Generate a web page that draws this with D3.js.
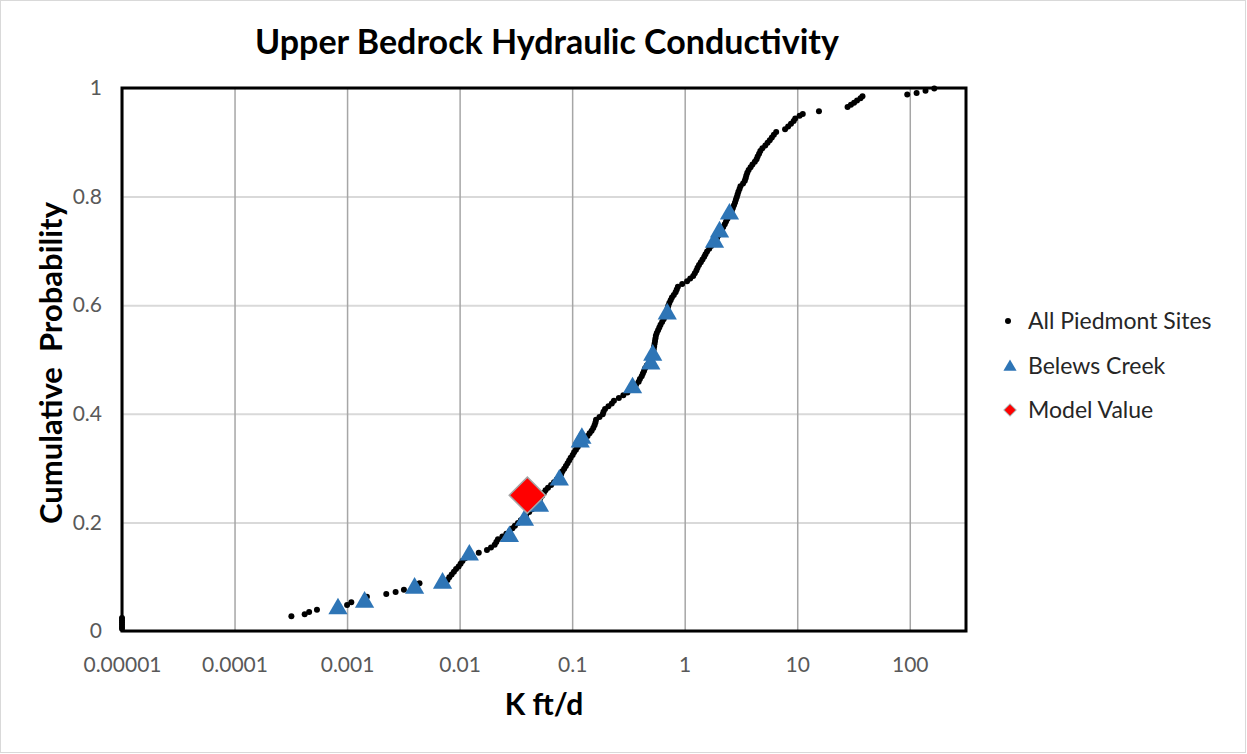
<!DOCTYPE html>
<html>
<head>
<meta charset="utf-8">
<script src="https://cdn.jsdelivr.net/npm/d3@7"></script>
<style>
  body { margin: 0; background: #fff; }
  text { font-family: Lato, "Open Sans", sans-serif; }
</style>
</head>
<body>
<div id="scatter"></div>
<script>
// data: [K ft/d, cumulative probability]
var piedmont = [
  [1e-5, 0.004], [1e-5, 0.008], [1e-5, 0.012], [1e-5, 0.016], [1e-5, 0.020], [1e-5, 0.024],
  [3.2e-4, 0.027], [4.2e-4, 0.031], [4.6e-4, 0.035], [5.4e-4, 0.039],
  [1.0e-3, 0.048], [1.09e-3, 0.053], [1.45e-3, 0.058], [1.5e-3, 0.063],
  [2.23e-3, 0.068], [2.7e-3, 0.072], [3.2e-3, 0.076], [4.2e-3, 0.084], [4.4e-3, 0.088],
  [7.8e-3, 0.094], [8.1e-3, 0.099], [8.5e-3, 0.104], [8.9e-3, 0.109], [9.3e-3, 0.114], [9.8e-3, 0.119],
  [0.0102, 0.124], [0.0106, 0.129], [0.0112, 0.134], [0.0127, 0.139], [0.0148, 0.144], [0.0175, 0.149],
  [0.019, 0.154], [0.0205, 0.159], [0.0212, 0.164], [0.0219, 0.169], [0.024, 0.174], [0.026, 0.179],
  [0.028, 0.184], [0.0295, 0.189], [0.031, 0.194], [0.033, 0.199], [0.035, 0.204], [0.037, 0.209],
  [0.039, 0.214], [0.0415, 0.219], [0.044, 0.224], [0.046, 0.229], [0.048, 0.234], [0.05, 0.239],
  [0.052, 0.244], [0.054, 0.249], [0.056, 0.254], [0.058, 0.259], [0.061, 0.264], [0.065, 0.269],
  [0.069, 0.274], [0.073, 0.279], [0.077, 0.284], [0.08, 0.289], [0.082, 0.294], [0.085, 0.299],
  [0.088, 0.304], [0.091, 0.309], [0.094, 0.314], [0.097, 0.319], [0.101, 0.324], [0.104, 0.329],
  [0.108, 0.334], [0.112, 0.339], [0.117, 0.344], [0.122, 0.349], [0.128, 0.354], [0.137, 0.359],
  [0.143, 0.364], [0.149, 0.369], [0.154, 0.374], [0.158, 0.379], [0.161, 0.384], [0.163, 0.389],
  [0.175, 0.394], [0.187, 0.399], [0.19, 0.404], [0.196, 0.409], [0.21, 0.414], [0.225, 0.419],
  [0.235, 0.424], [0.26, 0.429], [0.285, 0.434], [0.31, 0.439], [0.33, 0.444], [0.35, 0.449],
  [0.37, 0.454], [0.39, 0.459], [0.4, 0.464], [0.415, 0.469], [0.425, 0.474], [0.435, 0.479],
  [0.445, 0.484], [0.46, 0.489], [0.48, 0.494], [0.5, 0.499], [0.51, 0.504], [0.52, 0.509],
  [0.525, 0.514], [0.53, 0.519], [0.535, 0.524], [0.54, 0.529], [0.545, 0.534], [0.55, 0.539],
  [0.555, 0.544], [0.565, 0.549], [0.58, 0.554], [0.595, 0.559], [0.61, 0.564], [0.63, 0.569],
  [0.65, 0.574], [0.67, 0.579], [0.685, 0.584], [0.695, 0.589], [0.705, 0.594], [0.715, 0.599],
  [0.73, 0.604], [0.75, 0.609], [0.77, 0.614], [0.8, 0.619], [0.83, 0.624], [0.85, 0.629],
  [0.87, 0.634], [0.95, 0.639], [1.05, 0.644], [1.12, 0.649], [1.19, 0.654], [1.23, 0.659],
  [1.27, 0.664], [1.3, 0.669], [1.34, 0.674], [1.39, 0.679], [1.44, 0.684], [1.49, 0.689],
  [1.53, 0.694], [1.58, 0.699], [1.65, 0.704], [1.72, 0.709], [1.8, 0.714], [1.87, 0.719],
  [1.94, 0.724], [2.0, 0.729], [2.07, 0.734], [2.14, 0.739], [2.2, 0.744], [2.27, 0.749],
  [2.33, 0.754], [2.4, 0.759], [2.47, 0.764], [2.55, 0.769], [2.62, 0.774], [2.68, 0.779],
  [2.74, 0.784], [2.8, 0.789], [2.85, 0.794], [2.9, 0.799], [2.95, 0.804], [3.0, 0.809],
  [3.07, 0.814], [3.13, 0.819], [3.3, 0.824], [3.42, 0.829], [3.48, 0.834], [3.53, 0.839],
  [3.6, 0.844], [3.7, 0.849], [3.85, 0.854], [4.0, 0.859], [4.2, 0.864], [4.35, 0.869],
  [4.45, 0.874], [4.58, 0.879], [4.7, 0.884], [4.9, 0.889], [5.2, 0.894], [5.45, 0.899],
  [5.7, 0.904], [5.95, 0.909], [6.2, 0.914], [6.5, 0.919], [7.8, 0.924], [8.3, 0.929],
  [8.8, 0.934], [9.3, 0.939], [9.6, 0.944], [10.5, 0.949], [11.2, 0.952], [15.6, 0.957],
  [28, 0.965], [30, 0.969], [32, 0.973], [34, 0.977], [36.5, 0.981], [38, 0.985],
  [95, 0.988], [115, 0.991], [138, 0.995], [165, 0.999]
];

var belews = [
  [8.3e-4, 0.041], [1.43e-3, 0.053], [3.98e-3, 0.079], [7.05e-3, 0.088], [0.0122, 0.140],
  [0.0277, 0.174], [0.0377, 0.204], [0.0512, 0.230], [0.0769, 0.278], [0.118, 0.348],
  [0.122, 0.355], [0.344, 0.448], [0.50, 0.492], [0.52, 0.508], [0.70, 0.584],
  [1.84, 0.716], [2.04, 0.735], [2.5, 0.768]
];

var model = [[0.04, 0.25]];

var xTickValues = [0.00001, 0.0001, 0.001, 0.01, 0.1, 1, 10, 100];
var xTickLabels = ["0.00001", "0.0001", "0.001", "0.01", "0.1", "1", "10", "100"];
var yTickValues = [0, 0.2, 0.4, 0.6, 0.8, 1];
var yTickLabels = ["0", "0.2", "0.4", "0.6", "0.8", "1"];

var seriesNames = ["All Piedmont Sites", "Belews Creek", "Model Value"];

var svgWidth = 1247;
var svgHeight = 754;

var margin = { top: 88, right: 281, bottom: 123, left: 122 };
var width = svgWidth - margin.left - margin.right;
var height = svgHeight - margin.top - margin.bottom;

var svg = d3.select("#scatter")
  .append("svg")
  .attr("width", svgWidth)
  .attr("height", svgHeight);

// outer chart border
svg.append("rect")
  .attr("x", 0.5).attr("y", 0.5)
  .attr("width", svgWidth - 2).attr("height", svgHeight - 2)
  .attr("fill", "#fff")
  .attr("stroke", "#d9d9d9");

var chartGroup = svg.append("g")
  .attr("transform", `translate(${margin.left}, ${margin.top})`);

// scales
var xLogScale = d3.scaleLog()
  .domain([0.00001, 316])
  .range([0, width]);

var yLinearScale = d3.scaleLinear()
  .domain([0, 1])
  .range([height, 0]);

// horizontal gridlines
chartGroup.append("g")
  .attr("class", "ygrid")
  .call(d3.axisLeft(yLinearScale).tickValues(yTickValues).tickSize(-width).tickFormat(""))
  .call(g => g.select(".domain").remove())
  .call(g => g.selectAll("line").attr("stroke", "#d9d9d9").attr("stroke-width", 2));

// vertical gridlines
chartGroup.append("g")
  .attr("class", "xgrid")
  .attr("transform", `translate(0, ${height})`)
  .call(d3.axisBottom(xLogScale).tickValues(xTickValues).tickSize(-height).tickFormat(""))
  .call(g => g.select(".domain").remove())
  .call(g => g.selectAll("line").attr("stroke", "#a6a6a6").attr("stroke-width", 1.5));

// plot frame
chartGroup.append("rect")
  .attr("width", width)
  .attr("height", height)
  .attr("fill", "none")
  .attr("stroke", "#000")
  .attr("stroke-width", 3);

// axis tick labels
chartGroup.append("g")
  .attr("transform", `translate(0, ${height})`)
  .call(d3.axisBottom(xLogScale).tickValues(xTickValues)
    .tickFormat((d, i) => xTickLabels[i]).tickSize(0).tickPadding(26))
  .call(g => g.select(".domain").remove())
  .call(g => g.selectAll("text")
    .attr("fill", "#595959")
    .style("font-size", "21px")
    .style("font-family", "Lato, sans-serif"));

chartGroup.append("g")
  .call(d3.axisLeft(yLinearScale).tickValues(yTickValues)
    .tickFormat((d, i) => yTickLabels[i]).tickSize(0).tickPadding(20))
  .call(g => g.select(".domain").remove())
  .call(g => g.selectAll("text")
    .attr("fill", "#595959")
    .style("font-size", "21px")
    .style("font-family", "Lato, sans-serif"));

// points
chartGroup.append("g")
  .selectAll("circle")
  .data(piedmont)
  .enter()
  .append("circle")
  .attr("cx", d => xLogScale(d[0]))
  .attr("cy", d => yLinearScale(d[1]))
  .attr("r", 3)
  .attr("fill", "#000");

var triangle = d3.symbol().type(d3.symbolTriangle).size(160);
chartGroup.append("g")
  .selectAll("path")
  .data(belews)
  .enter()
  .append("path")
  .attr("d", triangle)
  .attr("transform", d => `translate(${xLogScale(d[0])}, ${yLinearScale(d[1])})`)
  .attr("fill", "#2e75b6");

var diamond = d3.symbol().type(d3.symbolSquare).size(660);
chartGroup.append("g")
  .selectAll("path")
  .data(model)
  .enter()
  .append("path")
  .attr("d", diamond)
  .attr("transform", d => `translate(${xLogScale(d[0])}, ${yLinearScale(d[1])}) rotate(45)`)
  .attr("fill", "#ff0000")
  .attr("stroke", "#a6a6a6")
  .attr("stroke-width", 1.5);

// title and axis titles
svg.append("text")
  .attr("x", 547)
  .attr("y", 54)
  .attr("text-anchor", "middle")
  .style("font-size", "34px")
  .style("font-weight", "bold")
  .text("Upper Bedrock Hydraulic Conductivity");

svg.append("text")
  .attr("transform", "rotate(-90)")
  .attr("x", -363)
  .attr("y", 62)
  .attr("text-anchor", "middle")
  .attr("xml:space", "preserve")
  .style("font-size", "31px")
  .style("font-weight", "bold")
  .text("Cumulative  Probability");

svg.append("text")
  .attr("x", 544)
  .attr("y", 715)
  .attr("text-anchor", "middle")
  .style("font-size", "30px")
  .style("font-weight", "bold")
  .text("K ft/d");

// legend
var legend = svg.append("g").attr("transform", "translate(1010, 0)");
var legendY = [321, 366, 410];

legend.append("circle").attr("cx", -2).attr("cy", legendY[0]).attr("r", 3).attr("fill", "#000");
legend.append("path")
  .attr("d", d3.symbol().type(d3.symbolTriangle).size(75))
  .attr("transform", `translate(0, ${legendY[1] + 1})`)
  .attr("fill", "#2e75b6");
legend.append("path")
  .attr("d", d3.symbol().type(d3.symbolSquare).size(75))
  .attr("transform", `translate(0, ${legendY[2]}) rotate(45)`)
  .attr("fill", "#ff0000")
  .attr("stroke", "#a6a6a6")
  .attr("stroke-width", 1);

legend.selectAll("text")
  .data(seriesNames)
  .enter()
  .append("text")
  .attr("x", 18)
  .attr("y", (d, i) => legendY[i] + 8)
  .style("font-size", "23px")
  .attr("fill", "#262626")
  .text(d => d);
</script>
</body>
</html>
